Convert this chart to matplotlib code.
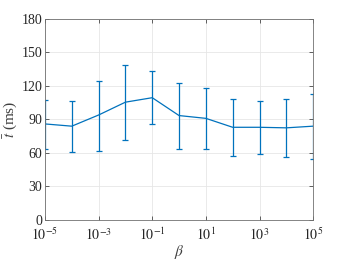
import numpy as np
import matplotlib
matplotlib.use("Agg")
import matplotlib.pyplot as plt

# data
betas = [1e-5, 1e-4, 1e-3, 1e-2, 1e-1, 1e0, 1e1, 1e2, 1e3, 1e4, 1e5]
mean_t = [86, 84, 94, 105.5, 109.5, 93.5, 91, 83, 83, 82.5, 84]
upper = [107, 106.5, 124.5, 139, 133.5, 122.5, 118.5, 108, 106.5, 108, 112.5]
lower = [63.5, 60.5, 62, 72, 86, 64, 63.5, 57.5, 59, 56, 54.5]
xticks = [1e-5, 1e-3, 1e-1, 1e1, 1e3, 1e5]
xticklabels = [r"$10^{-5}$", r"$10^{-3}$", r"$10^{-1}$", r"$10^{1}$", r"$10^{3}$", r"$10^{5}$"]
yticks = [0, 30, 60, 90, 120, 150, 180]

plt.rcParams["font.family"] = "Liberation Serif"
plt.rcParams["mathtext.fontset"] = "stix"

fig = plt.figure(figsize=(3.46, 2.6), dpi=100)
ax = fig.add_axes([0.130, 0.154, 0.775, 0.773])

m = np.array(mean_t)
yerr = [m - np.array(lower), np.array(upper) - m]
ax.errorbar(betas, mean_t, yerr=yerr, color="#0072BD", lw=0.9, elinewidth=0.9,
            capsize=2.5, capthick=0.9)

ax.set_xscale("log")
ax.set_xlim(1e-5, 1e5)
ax.set_ylim(0, 180)
ax.set_xticks(xticks)
ax.set_xticklabels(xticklabels)
ax.minorticks_off()
ax.set_yticks(yticks)
ax.grid(True, color="#e6e6e6", lw=0.6)
ax.set_axisbelow(True)
ax.tick_params(direction="in", length=3, width=0.5, colors="#262626",
               labelsize=10, top=True, right=True, pad=2)
ax.tick_params(axis="x", pad=5)
for s in ax.spines.values():
    s.set_color("#707070")
    s.set_linewidth(0.6)

ax.set_xlabel(r"$\beta$", fontsize=11, color="#404040", labelpad=0)
ax.set_ylabel(r"$\bar{t}$ (ms)", fontsize=11, color="#404040", labelpad=1)

fig.savefig("out.png", dpi=100)
